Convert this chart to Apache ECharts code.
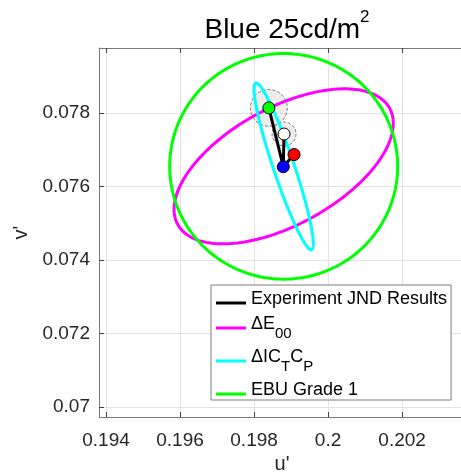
<!DOCTYPE html>
<html>
<head>
<meta charset="utf-8">
<script src="https://cdn.jsdelivr.net/npm/echarts@6/dist/echarts.min.js"></script>
<style>
  html, body { margin: 0; padding: 0; background: #fff; }
  #chart { width: 461px; height: 473px; }
</style>
</head>
<body>
<div id="chart"></div>
<script>
// Tick positions on the u' and v' axes
const uTicks = [0.194, 0.196, 0.198, 0.200, 0.202];
const vTicks = [0.070, 0.072, 0.074, 0.076, 0.078];

// Measured JND points (green, blue reference, white, red)
const pointU = [0.19840, 0.19879, 0.19881, 0.19908];
const pointV = [0.07814, 0.07654, 0.07743, 0.07687];
const pointFill = ['#00ff00', '#0000ff', '#ffffff', '#ff0000'];

// Order in which the black result lines visit the points
const jndPath = [0, 1, 2, 1, 3];

// Spread circles around two of the points: [point index, radius]
const spreadPoint = [0, 2];
const spreadRadius = [0.00050, 0.000325];

// Threshold ellipses: centre, semi-axes and tilt in degrees
const ellipseNames = ['ΔE00', 'ΔICTCP', 'EBU Grade 1'];
const ellipseCu = [0.19880, 0.19880, 0.19880];
const ellipseCv = [0.07655, 0.07655, 0.07655];
const ellipseA = [0.00327, 0.00239, 0.00308];
const ellipseB = [0.00159, 0.000284, 0.00307];
const ellipseTilt = [29, 108.4, 0];
const ellipseColors = ['#ff00ff', '#00ffff', '#00ff00'];

const FONT = '"Liberation Sans", Arial, Helvetica, sans-serif';
const AXIS_COLOR = '#262626';

const fmt = v => String(+v.toFixed(3));

const chart = echarts.init(document.getElementById('chart'), null, { renderer: 'canvas' });

function ellipseSeries(i) {
  return {
    name: ellipseNames[i],
    type: 'custom',
    z: 3,
    itemStyle: { color: ellipseColors[i] },
    data: [[ellipseCu[i], ellipseCv[i], ellipseA[i], ellipseB[i], ellipseTilt[i]]],
    renderItem: function (params, api) {
      const cu = api.value(0), cv = api.value(1);
      const a = api.value(2), b = api.value(3);
      const ang = api.value(4) * Math.PI / 180;
      const pts = [];
      const n = 180;
      for (let k = 0; k <= n; k++) {
        const t = 2 * Math.PI * k / n;
        const du = a * Math.cos(t) * Math.cos(ang) - b * Math.sin(t) * Math.sin(ang);
        const dv = a * Math.cos(t) * Math.sin(ang) + b * Math.sin(t) * Math.cos(ang);
        pts.push(api.coord([cu + du, cv + dv]));
      }
      return {
        type: 'polygon',
        shape: { points: pts },
        style: { fill: 'none', stroke: ellipseColors[i], lineWidth: 3 }
      };
    }
  };
}

const legendLabels = {
  'Experiment JND Results': '{n|Experiment JND Results}',
  'ΔE00': '{n|ΔE}{s|00}',
  'ΔICTCP': '{n|ΔIC}{s|T}{n|C}{s|P}',
  'EBU Grade 1': '{n|EBU Grade 1}'
};

const option = {
  animation: false,
  backgroundColor: '#ffffff',
  textStyle: { fontFamily: FONT },
  title: {
    text: '{a|Blue 25cd/m}{b|2}',
    left: 282,
    top: 4,
    textAlign: 'center',
    textStyle: {
      fontWeight: 'normal',
      rich: {
        a: { fontSize: 28, fontWeight: 'normal', fontFamily: FONT, color: '#000', lineHeight: 35, verticalAlign: 'bottom' },
        b: { fontSize: 17, fontWeight: 'normal', fontFamily: FONT, color: '#000', lineHeight: 17, verticalAlign: 'top' }
      }
    }
  },
  grid: { left: 99, top: 48, width: 366, height: 369, containLabel: false, outerBoundsMode: 'none' },
  xAxis: [{
    type: 'value',
    min: 0.19381,
    max: 0.20370,
    position: 'bottom',
    name: "u'",
    nameLocation: 'middle',
    nameGap: 37,
    nameTextStyle: { fontSize: 20, color: AXIS_COLOR, fontFamily: FONT },
    axisLine: { show: true, lineStyle: { color: '#7a7a7a', width: 1 } },
    axisTick: { show: true, inside: true, length: 5, customValues: uTicks, lineStyle: { color: '#444' } },
    axisLabel: { customValues: uTicks, formatter: fmt, fontSize: 19, color: AXIS_COLOR, margin: 14, fontFamily: FONT },
    splitLine: { show: true, lineStyle: { color: '#e3e3e3', width: 1 } }
  }, {
    type: 'value',
    min: 0.19381,
    max: 0.20370,
    position: 'top',
    axisLine: { show: true, onZero: false, lineStyle: { color: '#7a7a7a', width: 1 } },
    axisTick: { show: true, inside: true, length: 5, customValues: uTicks, lineStyle: { color: '#444' } },
    axisLabel: { show: false },
    splitLine: { show: false }
  }],
  yAxis: [{
    type: 'value',
    min: 0.06973,
    max: 0.07977,
    position: 'left',
    name: "v'",
    nameLocation: 'middle',
    nameGap: 56,
    nameRotate: 90,
    nameTextStyle: { fontSize: 20, color: AXIS_COLOR, fontFamily: FONT },
    axisLine: { show: true, lineStyle: { color: '#7a7a7a', width: 1 } },
    axisTick: { show: true, inside: true, length: 5, customValues: vTicks, lineStyle: { color: '#444' } },
    axisLabel: { customValues: vTicks, formatter: fmt, fontSize: 19, color: AXIS_COLOR, margin: 9, fontFamily: FONT },
    splitLine: { show: true, lineStyle: { color: '#e3e3e3', width: 1 } }
  }],
  legend: {
    orient: 'vertical',
    left: 211,
    top: 285,
    selectedMode: false,
    icon: 'rect',
    itemWidth: 30,
    itemHeight: 3,
    itemGap: 7,
    padding: [5, 4, 1, 5],
    backgroundColor: '#ffffff',
    borderColor: '#7f7f7f',
    borderWidth: 1,
    data: ['Experiment JND Results', 'ΔE00', 'ΔICTCP', 'EBU Grade 1'],
    formatter: name => legendLabels[name],
    textStyle: {
      fontFamily: FONT,
      rich: {
        n: { fontSize: 18, fontFamily: FONT, color: '#000', lineHeight: 26, verticalAlign: 'top' },
        s: { fontSize: 15, fontFamily: FONT, color: '#000', lineHeight: 15, verticalAlign: 'bottom' }
      }
    }
  },
  series: [
    {
      name: 'spread',
      type: 'custom',
      z: 1,
      data: spreadPoint.map((p, i) => [pointU[p], pointV[p], spreadRadius[i]]),
      renderItem: function (params, api) {
        const c = api.coord([api.value(0), api.value(1)]);
        const s = api.size([api.value(2), api.value(2)]);
        return {
          type: 'circle',
          shape: { cx: c[0], cy: c[1], r: (s[0] + s[1]) / 2 },
          style: { fill: 'rgba(225,225,225,0.6)', stroke: '#555', lineWidth: 0.8, lineDash: [3, 2] }
        };
      }
    },
    ellipseSeries(0),
    ellipseSeries(1),
    ellipseSeries(2),
    {
      name: 'Experiment JND Results',
      type: 'line',
      z: 5,
      symbol: 'none',
      color: '#000000',
      lineStyle: { color: '#000000', width: 3 },
      data: jndPath.map(k => [pointU[k], pointV[k]])
    },
    {
      name: 'points',
      type: 'scatter',
      z: 6,
      symbol: 'circle',
      symbolSize: 12,
      data: pointU.map((u, k) => ({
        value: [u, pointV[k]],
        itemStyle: { color: pointFill[k], borderColor: '#000', borderWidth: 1, opacity: 1 }
      }))
    }
  ]
};

chart.setOption(option);
</script>
</body>
</html>
